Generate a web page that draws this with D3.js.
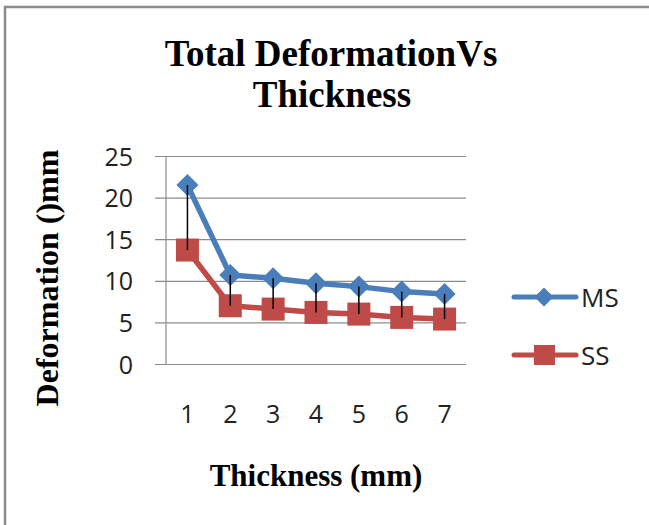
<!DOCTYPE html>
<html>
<head>
<meta charset="utf-8">
<script src="https://cdn.jsdelivr.net/npm/d3@7"></script>
<style>
  html, body { margin: 0; padding: 0; background: #fff; }
  svg { display: block; }
</style>
</head>
<body>
<div id="chart"></div>
<script>
// Total deformation of MS and SS plates at each thickness
const thickness = ["1", "2", "3", "4", "5", "6", "7"];
const msValues = [21.5, 10.7, 10.3, 9.7, 9.3, 8.7, 8.4];
const ssValues = [13.7, 7.0, 6.6, 6.2, 6.0, 5.6, 5.4];
const yTicks = [0, 5, 10, 15, 20, 25];
const seriesNames = ["MS", "SS"];

const W = 649, H = 525;
const blue = "#4A7EBB", red = "#BE4B48";
const serif = "'Liberation Serif', 'Times New Roman', serif";
const sans = "'Open Sans', 'DejaVu Sans', sans-serif";

const svg = d3.select("#chart").append("svg")
  .attr("width", W).attr("height", H);

// chart frame (top and left edges)
svg.append("path")
  .attr("d", `M5,${H} L5,7 L${W},7`)
  .attr("fill", "none").attr("stroke", "#8c8c8c").attr("stroke-width", 2.5);

const plot = { left: 166, right: 466, top: 156, bottom: 364 };

const x = d3.scaleBand().domain(thickness).range([plot.left, plot.right]);
const y = d3.scaleLinear().domain([0, 25]).range([plot.bottom, plot.top]);

// horizontal gridlines with tick labels
const yAxis = d3.axisLeft(y).tickValues(yTicks)
  .tickSize(-(plot.right - plot.left + 11));
const gy = svg.append("g").attr("transform", `translate(${plot.left - 11},0)`).call(yAxis);
gy.select(".domain").remove();
gy.selectAll(".tick line").attr("stroke", "#8c8c8c").attr("stroke-width", 1.2);
gy.selectAll(".tick text")
  .attr("x", -22)
  .attr("dy", "0.36em")
  .attr("fill", "#222")
  .style("font-family", sans)
  .style("font-size", "25px");

// vertical axis line
svg.append("line")
  .attr("x1", plot.left).attr("x2", plot.left)
  .attr("y1", plot.top).attr("y2", plot.bottom)
  .attr("stroke", "#8c8c8c").attr("stroke-width", 1.2);

// category labels
const xAxis = d3.axisBottom(x).tickSize(0).tickPadding(0);
const gx = svg.append("g").attr("transform", `translate(0,${plot.bottom + 59})`).call(xAxis);
gx.select(".domain").remove();
gx.selectAll(".tick text")
  .attr("dy", 0)
  .attr("fill", "#222")
  .style("font-family", sans)
  .style("font-size", "25px");

const cx = d => x(d) + x.bandwidth() / 2;
const line = d3.line().x((d, i) => cx(thickness[i])).y(d => y(d));

// SS series
svg.append("path").datum(ssValues)
  .attr("d", line).attr("fill", "none")
  .attr("stroke", red).attr("stroke-width", 5.5).attr("stroke-linejoin", "round");
svg.append("g").selectAll("rect").data(ssValues).join("rect")
  .attr("x", (d, i) => cx(thickness[i]) - 11.5)
  .attr("y", d => y(d) - 11.5)
  .attr("width", 23).attr("height", 23)
  .attr("fill", red);

// MS series
svg.append("path").datum(msValues)
  .attr("d", line).attr("fill", "none")
  .attr("stroke", blue).attr("stroke-width", 5.5).attr("stroke-linejoin", "round");
const diamond = "M0,-11 L11,0 L0,11 L-11,0 Z";
svg.append("g").selectAll("path").data(msValues).join("path")
  .attr("d", diamond)
  .attr("transform", (d, i) => `translate(${cx(thickness[i])},${y(d)})`)
  .attr("fill", blue);

// high-low lines between the two series, drawn over the markers
svg.append("g").selectAll("line").data(thickness).join("line")
  .attr("x1", cx).attr("x2", cx)
  .attr("y1", (d, i) => y(msValues[i]))
  .attr("y2", (d, i) => y(ssValues[i]))
  .attr("stroke", "#000").attr("stroke-width", 1.5);

// title
const title = svg.append("text")
  .attr("text-anchor", "middle")
  .style("font-family", serif)
  .style("font-weight", "bold")
  .style("font-size", "37px")
  .attr("fill", "#000");
title.append("tspan").attr("x", 331).attr("y", 66).text("Total DeformationVs");
title.append("tspan").attr("x", 332).attr("y", 107).text("Thickness");

// axis titles
svg.append("text")
  .attr("x", 316).attr("y", 486)
  .attr("text-anchor", "middle")
  .style("font-family", serif)
  .style("font-weight", "bold").style("font-size", "31px")
  .text("Thickness (mm)");

svg.append("text")
  .attr("transform", "translate(58,278) rotate(-90)")
  .attr("text-anchor", "middle")
  .style("font-family", serif)
  .style("font-weight", "bold").style("font-size", "32px")
  .text("Deformation ()mm");

// legend
const legendY = [297, 355];
const colors = [blue, red];
seriesNames.forEach((name, i) => {
  const g = svg.append("g").attr("transform", `translate(0,${legendY[i]})`);
  g.append("line").attr("x1", 514).attr("x2", 576)
    .attr("stroke", colors[i]).attr("stroke-width", 5).attr("stroke-linecap", "round");
  if (i === 0) {
    g.append("path").attr("d", "M0,-9.5 L9.5,0 L0,9.5 L-9.5,0 Z")
      .attr("transform", "translate(544,0)").attr("fill", colors[i]);
  } else {
    g.append("rect").attr("x", 534).attr("y", -10).attr("width", 21).attr("height", 20)
      .attr("fill", colors[i]);
  }
  g.append("text").attr("x", 581).attr("y", 10)
    .style("font-family", sans)
    .style("font-size", "26px").attr("fill", "#222")
    .text(name);
});
</script>
</body>
</html>
